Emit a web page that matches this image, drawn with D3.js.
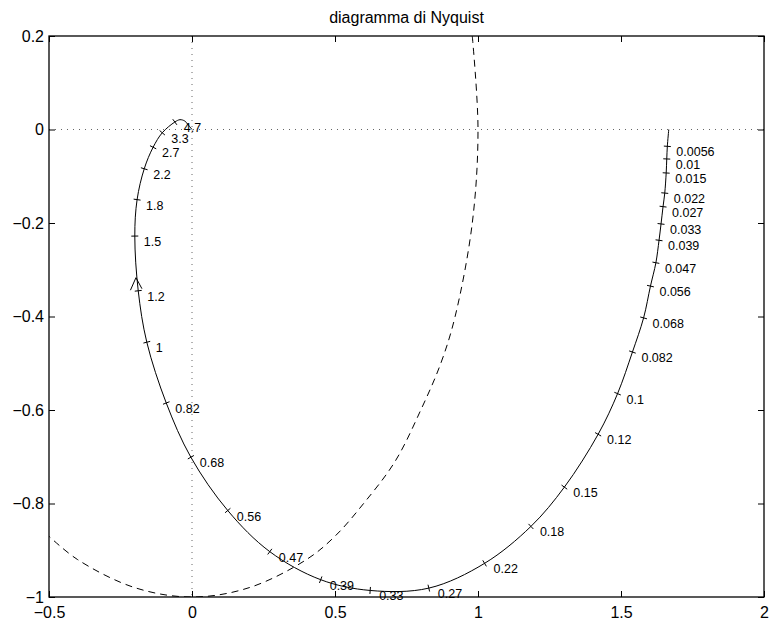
<!DOCTYPE html>
<html>
<head>
<meta charset="utf-8">
<script src="https://cdn.jsdelivr.net/npm/d3@7"></script>
<style>
  body { margin: 0; background: #fff; }
  svg text { font-family: "Liberation Sans", Arial, Helvetica, sans-serif; fill: #000; }
</style>
</head>
<body>
<div id="chart"></div>
<script>
// axis ticks
const xTicks = [-0.5, 0, 0.5, 1, 1.5, 2];
const yTicks = [0.2, 0, -0.2, -0.4, -0.6, -0.8, -1];

// labelled frequency points on the Nyquist curve
const freqLabels = ["0.0056", "0.01", "0.015", "0.022", "0.027", "0.033", "0.039", "0.047",
  "0.056", "0.068", "0.082", "0.1", "0.12", "0.15", "0.18", "0.22", "0.27", "0.33", "0.39",
  "0.47", "0.56", "0.68", "0.82", "1", "1.2", "1.5", "1.8", "2.2", "2.7", "3.3", "4.7"];
const freqRe = [1.662, 1.660, 1.658, 1.653, 1.647, 1.640, 1.633, 1.622,
  1.603, 1.579, 1.540, 1.488, 1.420, 1.302, 1.185, 1.023, 0.828, 0.623, 0.450,
  0.272, 0.125, -0.004, -0.090, -0.158, -0.188, -0.200, -0.192, -0.167, -0.136, -0.104, -0.060];
const freqIm = [-0.036, -0.063, -0.093, -0.136, -0.165, -0.202, -0.237, -0.285,
  -0.335, -0.403, -0.476, -0.565, -0.652, -0.765, -0.849, -0.928, -0.981, -0.986, -0.963,
  -0.903, -0.815, -0.701, -0.585, -0.455, -0.345, -0.228, -0.150, -0.084, -0.038, -0.007, 0.016];

// curve ends: w = 0 start and the high-frequency tail into the origin
const headRe = [1.667];
const headIm = [0];
const tailRe = [-0.042, -0.025, -0.012, 0];
const tailIm = [0.021, 0.018, 0.009, 0];

// direction arrow on the curve
const arrowAt = [-0.196, -0.317];

// dashed reference circle (unit circle)
const circleRe = [0.98, 1.0, 0.98, 0.92, 0.87, 0.80, 0.71, 0.60, 0.50, 0.40, 0.20, 0.0, -0.20, -0.40, -0.50];
const circleIm = [0.20, 0.0, -0.20, -0.40, -0.50, -0.60, -0.71, -0.80, -0.87, -0.92, -0.98, -1.0, -0.98, -0.92, -0.87];

const W = 770, H = 625;
const plot = {left: 49, right: 764, top: 36, bottom: 597};

const svg = d3.select("#chart").append("svg")
  .attr("width", W).attr("height", H);

const x = d3.scaleLinear().domain([-0.5, 2]).range([plot.left, plot.right]);
const y = d3.scaleLinear().domain([-1, 0.2]).range([plot.bottom, plot.top]);

svg.append("defs").append("clipPath").attr("id", "clip")
  .append("rect")
  .attr("x", plot.left).attr("y", plot.top)
  .attr("width", plot.right - plot.left).attr("height", plot.bottom - plot.top);

const g = svg.append("g").attr("clip-path", "url(#clip)");

// dotted zero lines
g.append("line")
  .attr("x1", x(-0.5)).attr("x2", x(2)).attr("y1", y(0)).attr("y2", y(0))
  .attr("stroke", "#666").attr("stroke-width", 1).attr("stroke-dasharray", "1,5");
g.append("line")
  .attr("x1", x(0)).attr("x2", x(0)).attr("y1", y(0.2)).attr("y2", y(-1))
  .attr("stroke", "#666").attr("stroke-width", 1).attr("stroke-dasharray", "1,5");

// dashed unit circle
const circlePts = circleRe.map((r, i) => [r, circleIm[i]]);
const line = d3.line().x(d => x(d[0])).y(d => y(d[1])).curve(d3.curveCatmullRom.alpha(0.5));
g.append("path")
  .attr("d", line(circlePts))
  .attr("fill", "none").attr("stroke", "#000").attr("stroke-width", 1)
  .attr("stroke-dasharray", "7,5");

// Nyquist curve
const ticksPts = freqRe.map((r, i) => [r, freqIm[i]]);
const curvePts = headRe.map((r, i) => [r, headIm[i]])
  .concat(ticksPts)
  .concat(tailRe.map((r, i) => [r, tailIm[i]]));
g.append("path")
  .attr("d", line(curvePts))
  .attr("fill", "none").attr("stroke", "#000").attr("stroke-width", 1);

// small tick marks across the curve at each labelled frequency
const px = curvePts.map(d => [x(d[0]), y(d[1])]);
ticksPts.forEach((d, i) => {
  const a = px[i], b = px[i + 2];
  let dx = b[0] - a[0], dy = b[1] - a[1];
  const len = Math.hypot(dx, dy);
  dx /= len; dy /= len;
  const cx = x(d[0]), cy = y(d[1]);
  g.append("line")
    .attr("x1", cx - dy * 3.5).attr("y1", cy + dx * 3.5)
    .attr("x2", cx + dy * 3.5).attr("y2", cy - dx * 3.5)
    .attr("stroke", "#000").attr("stroke-width", 1);
});

// frequency labels
svg.append("g").selectAll("text")
  .data(ticksPts)
  .join("text")
  .attr("x", d => x(d[0]) + 9)
  .attr("y", d => y(d[1]) + 6)
  .attr("dominant-baseline", "central")
  .attr("font-size", "12.5px")
  .text((d, i) => freqLabels[i]);

// arrow pointing up along the curve
const ax = x(arrowAt[0]), ay = y(arrowAt[1]);
g.append("path")
  .attr("d", `M${ax - 5.5},${ay + 12.5}L${ax},${ay}L${ax + 6},${ay + 11}`)
  .attr("fill", "none").attr("stroke", "#000").attr("stroke-width", 1);

// axes with inward ticks on all four sides
const fmt = d3.format("~g");
const styleAxis = sel => {
  sel.select(".domain").remove();
  sel.selectAll("line").attr("stroke", "#000");
  sel.selectAll("text").attr("font-size", "16px").attr("fill", "#000");
};
svg.append("g").attr("transform", `translate(0,${plot.bottom})`)
  .call(d3.axisBottom(x).tickValues(xTicks).tickFormat(fmt).tickSize(-6).tickPadding(10))
  .call(styleAxis);
svg.append("g").attr("transform", `translate(0,${plot.top})`)
  .call(d3.axisTop(x).tickValues(xTicks).tickFormat("").tickSize(-6))
  .call(styleAxis);
svg.append("g").attr("transform", `translate(${plot.left},0)`)
  .call(d3.axisLeft(y).tickValues(yTicks).tickFormat(fmt).tickSize(-6).tickPadding(5))
  .call(styleAxis);
svg.append("g").attr("transform", `translate(${plot.right},0)`)
  .call(d3.axisRight(y).tickValues(yTicks).tickFormat("").tickSize(-6))
  .call(styleAxis);

// box
svg.append("rect")
  .attr("x", plot.left).attr("y", plot.top)
  .attr("width", plot.right - plot.left).attr("height", plot.bottom - plot.top)
  .attr("fill", "none").attr("stroke", "#000").attr("stroke-width", 1.3);

// title
svg.append("text")
  .attr("x", (plot.left + plot.right) / 2).attr("y", 17)
  .attr("text-anchor", "middle").attr("dominant-baseline", "central")
  .attr("font-size", "16px")
  .text("diagramma di Nyquist");
</script>
</body>
</html>
